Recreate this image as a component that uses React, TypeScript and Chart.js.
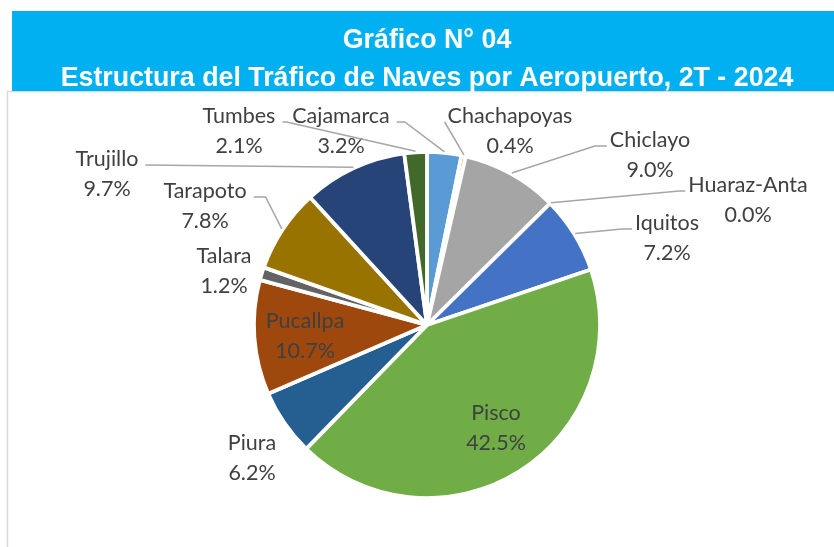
import React, { useEffect, useRef } from "react";
import { Chart, registerables } from "chart.js";

Chart.register(...registerables);

// ---- data ----
const categories = [
  "Cajamarca",
  "Chachapoyas",
  "Chiclayo",
  "Huaraz-Anta",
  "Iquitos",
  "Pisco",
  "Piura",
  "Pucallpa",
  "Talara",
  "Tarapoto",
  "Trujillo",
  "Tumbes",
];
const shares = [3.2, 0.4, 9.0, 0.0, 7.2, 42.5, 6.2, 10.7, 1.2, 7.8, 9.7, 2.1];
const titleLines = [
  "Gráfico N° 04",
  "Estructura del Tráfico de Naves por Aeropuerto, 2T - 2024",
];

// ---- styles / layout ----
const sliceColors = [
  "#5B9BD5",
  "#ED7D31",
  "#A5A5A5",
  "#FFC000",
  "#4472C4",
  "#70AD47",
  "#255E91",
  "#9E480E",
  "#636363",
  "#997300",
  "#264478",
  "#43682B",
];

type LabelLayout = { dx: number; dy: number; side?: "left" | "right"; elbow: number };
// offsets of each label (center x, first baseline) from the pie centre
const labelLayout: LabelLayout[] = [
  { dx: -86, dy: -202, side: "right", elbow: 8 }, // Cajamarca
  { dx: 83, dy: -202, side: "left", elbow: 0 }, // Chachapoyas
  { dx: 223, dy: -178, side: "left", elbow: 12 }, // Chiclayo
  { dx: 321, dy: -133, side: "left", elbow: 6 }, // Huaraz-Anta
  { dx: 240, dy: -95, side: "left", elbow: 10 }, // Iquitos
  { dx: 69, dy: 95, elbow: 0 }, // Pisco
  { dx: -175, dy: 125, elbow: 0 }, // Piura
  { dx: -122, dy: 3, elbow: 0 }, // Pucallpa
  { dx: -203, dy: -62, elbow: 0 }, // Talara
  { dx: -222, dy: -127, side: "right", elbow: 12 }, // Tarapoto
  { dx: -320, dy: -159, side: "right", elbow: 0 }, // Trujillo
  { dx: -188, dy: -202, side: "right", elbow: 4 }, // Tumbes
];

const LABEL_FONT = "21.5px Lato, 'Open Sans', sans-serif";
const TITLE_FONT = "bold 26.8px 'Liberation Sans', Arial, sans-serif";

const framePlugin = {
  id: "frame",
  beforeDraw(chart: any) {
    const ctx = chart.ctx as CanvasRenderingContext2D;
    const W = chart.width;
    const H = chart.height;
    ctx.save();
    ctx.fillStyle = "#FFFFFF";
    ctx.fillRect(0, 0, W, H);
    // chart area border
    ctx.strokeStyle = "#D9D9D9";
    ctx.lineWidth = 1.5;
    ctx.beginPath();
    ctx.moveTo(7.5, H + 5);
    ctx.lineTo(7.5, 91.5);
    ctx.lineTo(W + 5, 91.5);
    ctx.stroke();
    // banner
    ctx.fillStyle = "#00B0F0";
    ctx.fillRect(12, 11, W - 12, 80);
    ctx.fillStyle = "#FFFFFF";
    ctx.font = TITLE_FONT;
    ctx.textAlign = "center";
    ctx.textBaseline = "alphabetic";
    ctx.fillText(titleLines[0], 427, 48);
    ctx.fillText(titleLines[1], 427, 86);
    ctx.restore();
  },
};

const labelPlugin = {
  id: "sliceLabels",
  afterDatasetsDraw(chart: any) {
    const ctx = chart.ctx as CanvasRenderingContext2D;
    const meta = chart.getDatasetMeta(0);
    ctx.save();
    ctx.font = LABEL_FONT;
    meta.data.forEach((arc: any, i: number) => {
      const { x, y, startAngle, endAngle, outerRadius } = arc.getProps(
        ["x", "y", "startAngle", "endAngle", "outerRadius"],
        true
      );
      const mid = (startAngle + endAngle) / 2;
      const lay = labelLayout[i];
      const lx = x + lay.dx;
      const ly = y + lay.dy;
      const name = categories[i];
      const pct = shares[i].toFixed(1) + "%";
      const w = Math.max(ctx.measureText(name).width, ctx.measureText(pct).width);
      if (lay.side) {
        const px = x + Math.cos(mid) * (outerRadius + 1);
        const py = y + Math.sin(mid) * (outerRadius + 1);
        const ax = lay.side === "right" ? lx + w / 2 + 7 : lx - w / 2 - 3;
        const ay = ly - 1;
        const ex = lay.side === "right" ? ax + lay.elbow : ax - lay.elbow;
        ctx.strokeStyle = "#A6A6A6";
        ctx.lineWidth = 1.5;
        ctx.beginPath();
        ctx.moveTo(ax, ay);
        ctx.lineTo(ex, ay);
        ctx.lineTo(px, py);
        ctx.stroke();
      }
      ctx.fillStyle = "#404040";
      ctx.textAlign = "center";
      ctx.textBaseline = "alphabetic";
      ctx.fillText(name, lx, ly);
      ctx.fillText(pct, lx, ly + 29.5);
    });
    ctx.restore();
  },
};

export default function App() {
  const canvasRef = useRef<HTMLCanvasElement | null>(null);

  useEffect(() => {
    if (!canvasRef.current) return;
    const chart = new Chart(canvasRef.current, {
      type: "pie",
      data: {
        labels: categories,
        datasets: [
          {
            data: shares,
            backgroundColor: sliceColors,
            borderColor: "#FFFFFF",
            borderWidth: 3.8,
          },
        ],
      },
      options: {
        responsive: false,
        animation: false,
        devicePixelRatio: 1,
        layout: { padding: { left: 252, right: 232, top: 150, bottom: 47 } },
        plugins: {
          legend: { display: false },
          tooltip: { enabled: false },
          title: { display: false },
        },
      },
      plugins: [framePlugin, labelPlugin],
    } as any);
    return () => chart.destroy();
  }, []);

  return (
    <div style={{ position: "fixed", left: 0, top: 0, width: 834, height: 547, background: "#fff" }}>
      <canvas ref={canvasRef} width={834} height={547} style={{ width: 834, height: 547, display: "block" }} />
    </div>
  );
}
